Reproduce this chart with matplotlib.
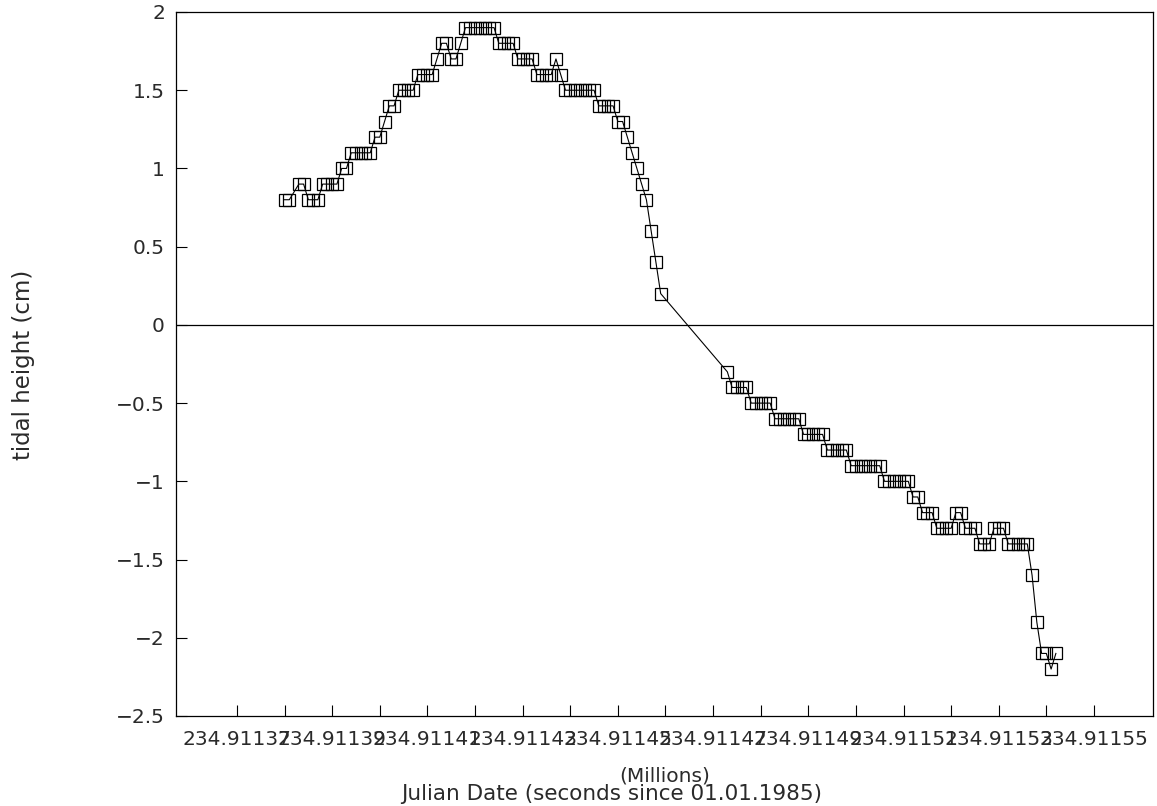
import matplotlib
matplotlib.use("Agg")
import matplotlib.pyplot as plt
from matplotlib.ticker import FixedLocator, FuncFormatter
import numpy as np

# record start reference (seconds since 01.01.1985)
T0 = 234911370

# sample time offsets from T0 (s) and tidal height (cm)
t_offset = [
    10, 11, 13, 14, 15, 16, 17, 18, 19, 20, 21, 22, 23,
    24, 25, 26, 27, 28, 29, 30, 31, 32, 33, 34, 35, 36, 37,
    38, 39, 40, 41, 42, 43, 44, 45, 46, 47,
    48, 49, 50, 51, 52, 53, 54, 55, 56, 57, 58,
    59, 60, 61, 62, 63, 64, 65, 66, 67, 68,
    69, 70, 71, 72, 73, 74, 75, 76, 77, 78, 79,
    80, 81, 82, 83, 84, 85, 86, 87, 88, 89,
    103, 104, 105, 106, 107, 108, 109, 110, 111, 112,
    113, 114, 115, 116, 117, 118, 119, 120, 121, 122, 123,
    124, 125, 126, 127, 128, 129, 130, 131, 132, 133, 134, 135,
    136, 137, 138, 139, 140, 141, 142, 143, 144, 145, 146,
    147, 148, 149, 150, 151, 152, 153, 154, 155, 156, 157, 158,
    159, 160, 161, 162, 163, 164, 165, 166, 167, 168,
    169, 170, 171, 172,
]
height = [
    0.8, 0.8, 0.9, 0.9, 0.8, 0.8, 0.8, 0.9, 0.9, 0.9, 0.9, 1.0, 1.0,
    1.1, 1.1, 1.1, 1.1, 1.1, 1.2, 1.2, 1.3, 1.4, 1.4, 1.5, 1.5, 1.5, 1.5,
    1.6, 1.6, 1.6, 1.6, 1.7, 1.8, 1.8, 1.7, 1.7, 1.8,
    1.9, 1.9, 1.9, 1.9, 1.9, 1.9, 1.9, 1.8, 1.8, 1.8, 1.8,
    1.7, 1.7, 1.7, 1.7, 1.6, 1.6, 1.6, 1.6, 1.7, 1.6,
    1.5, 1.5, 1.5, 1.5, 1.5, 1.5, 1.5, 1.4, 1.4, 1.4, 1.4,
    1.3, 1.3, 1.2, 1.1, 1.0, 0.9, 0.8, 0.6, 0.4, 0.2,
    -0.3, -0.4, -0.4, -0.4, -0.4, -0.5, -0.5, -0.5, -0.5, -0.5,
    -0.6, -0.6, -0.6, -0.6, -0.6, -0.6, -0.7, -0.7, -0.7, -0.7, -0.7,
    -0.8, -0.8, -0.8, -0.8, -0.8, -0.9, -0.9, -0.9, -0.9, -0.9, -0.9, -0.9,
    -1.0, -1.0, -1.0, -1.0, -1.0, -1.0, -1.1, -1.1, -1.2, -1.2, -1.2,
    -1.3, -1.3, -1.3, -1.3, -1.2, -1.2, -1.3, -1.3, -1.3, -1.4, -1.4, -1.4,
    -1.3, -1.3, -1.3, -1.4, -1.4, -1.4, -1.4, -1.4, -1.6, -1.9,
    -2.1, -2.1, -2.2, -2.1,
]

t_sec = T0 + np.asarray(t_offset, float)

TXT = "#2a2a2a"
FS = 14.5

fig = plt.figure(figsize=(11.57, 8.06), dpi=100)
ax = fig.add_axes([176 / 1157, 1 - 716 / 806, 977 / 1157, 704 / 806])

ax.plot(t_sec, height, color="black", lw=0.8, marker="s", ms=9.2,
        mfc="none", mec="black", mew=0.9)
ax.axhline(0, color="black", lw=0.9)

ax.set_xlim(T0 - 12.8, T0 + 192.4)
ax.set_ylim(-2.5, 2)

# labelled ticks every 20 s, plain ticks in between
ax.xaxis.set_major_locator(FixedLocator(np.arange(T0, T0 + 181, 20)))
ax.xaxis.set_minor_locator(FixedLocator(np.arange(T0 + 10, T0 + 171, 20)))
ax.xaxis.set_major_formatter(FuncFormatter(lambda v, p: f"{v / 1e6:.5f}"))
ax.yaxis.set_major_locator(FixedLocator(np.arange(-2.5, 2.01, 0.5)))
ax.yaxis.set_major_formatter(
    FuncFormatter(lambda v, p: f"{v:g}".replace("-", "\u2212")))

ax.tick_params(axis="both", which="both", direction="in", length=8,
               width=0.8, color="black", labelcolor=TXT, labelsize=FS)
ax.tick_params(axis="x", pad=10)
ax.tick_params(axis="y", pad=8)
for s in ax.spines.values():
    s.set_linewidth(0.9)

fig.text(665 / 1157, 1 - 776 / 806, "(Millions)", ha="center", va="center",
         fontsize=FS, color=TXT)
fig.text(612 / 1157, 1 - 794 / 806, "Julian Date (seconds since 01.01.1985)",
         ha="center", va="center", fontsize=15.5, color=TXT)
fig.text(24 / 1157, 1 - 365 / 806, "tidal height (cm)", rotation=90,
         ha="center", va="center", fontsize=16.5, color=TXT)

fig.savefig("out.png", dpi=100)
plt.close(fig)
